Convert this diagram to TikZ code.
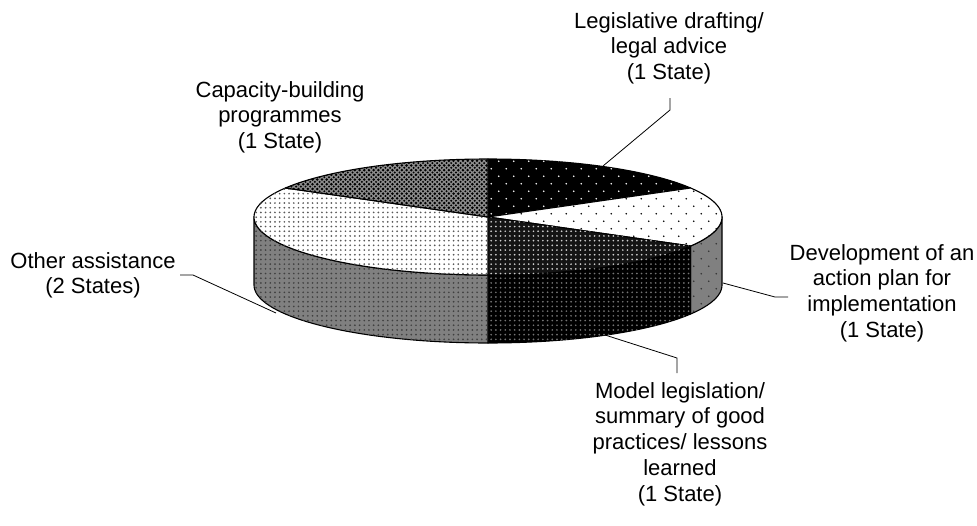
\documentclass[tikz,border=0pt]{standalone}
\usepackage{fontspec}
\setmainfont{Liberation Sans}
\usetikzlibrary{patterns}
\pgfdeclarepatternformonly{sparsedots}{\pgfqpoint{-1pt}{-1pt}}{\pgfqpoint{16pt}{16pt}}{\pgfqpoint{15pt}{15pt}}{%
  \pgfpathcircle{\pgfqpoint{3.75pt}{3.75pt}}{0.9pt}%
  \pgfpathcircle{\pgfqpoint{11.25pt}{11.25pt}}{0.9pt}%
  \pgfusepath{fill}}
\pgfdeclarepatternformonly{densedots}{\pgfqpoint{-1pt}{-1pt}}{\pgfqpoint{5.7pt}{5.7pt}}{\pgfqpoint{4.7pt}{4.7pt}}{%
  \pgfpathcircle{\pgfqpoint{2.35pt}{2.35pt}}{0.95pt}%
  \pgfusepath{fill}}
\pgfdeclarepatternformonly{checkdots}{\pgfqpoint{-1pt}{-1pt}}{\pgfqpoint{5.7pt}{5.7pt}}{\pgfqpoint{4.7pt}{4.7pt}}{%
  \pgfpathcircle{\pgfqpoint{2.35pt}{2.35pt}}{1.4pt}%
  \pgfpathcircle{\pgfqpoint{0pt}{0pt}}{1.1pt}%
  \pgfusepath{fill}}
\definecolor{midgray}{HTML}{808080}
\tikzset{
  face/.style={draw=black, line width=1.1pt, line join=round},
  topA/.style={face, fill=black, postaction={pattern=sparsedots, pattern color=white}},
  topB/.style={face, fill=white, postaction={pattern=sparsedots, pattern color=black}},
  topC/.style={face, fill=black!92, postaction={pattern=densedots, pattern color=black!20}},
  topD/.style={face, fill=white, postaction={pattern=densedots, pattern color=black!65}},
  topE/.style={face, fill=black!45, postaction={pattern=checkdots, pattern color=black}},
  sideB/.style={face, fill=midgray, postaction={pattern=sparsedots, pattern color=black!80}},
  sideC/.style={face, fill=black, postaction={pattern=densedots, pattern color=black!55}},
  sideD/.style={face, fill=midgray, postaction={pattern=densedots, pattern color=black!75}},
  lbl/.style={align=center, inner sep=0pt, font=\fontsize{22}{25.8}\selectfont},
  leader/.style={draw=black, line width=0.8pt}
}
\def\pcx{488}
\def\pcy{217}
\def\pra{234}
\def\prb{58}
\def\pih{68}
\begin{document}
\begin{tikzpicture}[x=1pt,y=-1pt]
\useasboundingbox (0,0) rectangle (977,525);
% sides
\path[sideB] plot[domain=90:120,samples=20] ({\pcx+\pra*sin(\x)},{\pcy-\prb*cos(\x)})
  -- plot[domain=120:90,samples=20] ({\pcx+\pra*sin(\x)},{\pcy+\pih-\prb*cos(\x)}) -- cycle;
\path[sideC] plot[domain=120:180,samples=30] ({\pcx+\pra*sin(\x)},{\pcy-\prb*cos(\x)})
  -- plot[domain=180:120,samples=30] ({\pcx+\pra*sin(\x)},{\pcy+\pih-\prb*cos(\x)}) -- cycle;
\path[sideD] plot[domain=180:270,samples=40] ({\pcx+\pra*sin(\x)},{\pcy-\prb*cos(\x)})
  -- plot[domain=270:180,samples=40] ({\pcx+\pra*sin(\x)},{\pcy+\pih-\prb*cos(\x)}) -- cycle;
% top
\path[topA] (\pcx,\pcy) -- plot[domain=0:60,samples=30] ({\pcx+\pra*sin(\x)},{\pcy-\prb*cos(\x)}) -- cycle;
\path[topB] (\pcx,\pcy) -- plot[domain=60:120,samples=30] ({\pcx+\pra*sin(\x)},{\pcy-\prb*cos(\x)}) -- cycle;
\path[topC] (\pcx,\pcy) -- plot[domain=120:180,samples=30] ({\pcx+\pra*sin(\x)},{\pcy-\prb*cos(\x)}) -- cycle;
\path[topD] (\pcx,\pcy) -- plot[domain=180:300,samples=50] ({\pcx+\pra*sin(\x)},{\pcy-\prb*cos(\x)}) -- cycle;
\path[topE] (\pcx,\pcy) -- plot[domain=300:360,samples=30] ({\pcx+\pra*sin(\x)},{\pcy-\prb*cos(\x)}) -- cycle;
% labels
\node[lbl, anchor=north] (leg) at (669,12) {Legislative drafting/\\legal advice\\(1 State)};
\node[lbl, anchor=north] (cap) at (280,81) {Capacity-building\\programmes\\(1 State)};
\node[lbl, anchor=north] (oth) at (93,252) {Other assistance\\(2 States)};
\node[lbl, anchor=north] (dev) at (882,244) {Development of an\\action plan for\\implementation\\(1 State)};
\node[lbl, anchor=north] (mod) at (680,382) {Model legislation/\\summary of good\\practices/ lessons\\learned\\(1 State)};
% leader lines
\coordinate (legA) at (670,98);
\coordinate (legB) at (670,110);
\coordinate (legC) at (603,166);
\coordinate (devA) at (723,283);
\coordinate (devB) at (775,297);
\coordinate (devC) at (788,297);
\coordinate (modA) at (605,335);
\coordinate (modB) at (677,358);
\coordinate (modC) at (677,373);
\coordinate (othA) at (180,275);
\coordinate (othB) at (193,275);
\coordinate (othC) at (276,313);
\draw[leader] (legA) -- (legB) -- (legC);
\draw[leader] (devA) -- (devB) -- (devC);
\draw[leader] (modA) -- (modB) -- (modC);
\draw[leader] (othA) -- (othB) -- (othC);
\end{tikzpicture}
\end{document}
